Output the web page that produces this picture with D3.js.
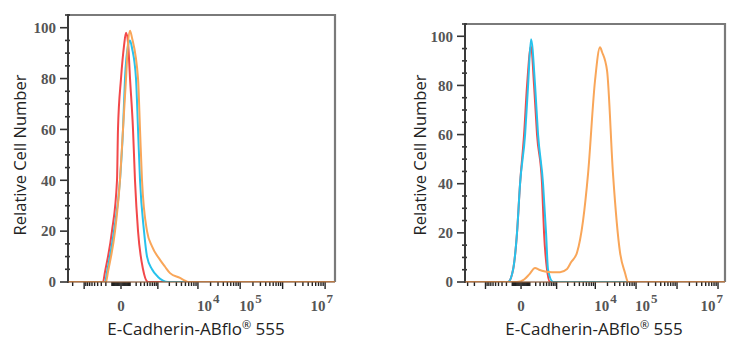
<!DOCTYPE html>
<html>
<head>
<meta charset="utf-8">
<script src="https://cdn.jsdelivr.net/npm/d3@7"></script>
<style>
  body { margin: 0; background: #fff; }
  .tick-label { font-family: "Liberation Serif", serif; font-weight: bold; font-size: 15px; fill: #555; }
  .axis-title { font-family: "Open Sans", "Noto Sans", sans-serif; font-size: 17px; fill: #222; }
</style>
</head>
<body>
<div id="chart"></div>
<script>
// fluorescence channel values (biexponential display) and % of max counts

// left panel
var leftRedX = [-2620, -260, -217, -99, -38, -28, 0, 28, 49, 73, 99, 144, 178, 238, 361, 522, 1.71e7];
var leftRedY = [0, 0, 4, 20, 40, 60, 80, 93, 98, 94, 80, 60, 40, 20, 5, 0, 0];

var leftCyanX = [-2620, -217, -178, -73, -9, 18, 38, 73, 99, 128, 197, 238, 283, 389, 486, 686, 1010, 1850, 1.71e7];
var leftCyanY = [0, 0, 4, 20, 40, 60, 80, 93, 95, 92, 80, 60, 40, 20, 10, 5, 2, 0, 0];

var leftOrangeX = [-2620, -197, -161, -60, -9, 18, 49, 73, 99, 128, 238, 283, 333, 486, 686, 1145, 1550, 2080, 3690, 4900, 5780, 1.71e7];
var leftOrangeY = [0, 0, 4, 20, 40, 60, 80, 94, 98.8, 96, 80, 60, 40, 20, 14, 8.7, 6, 3.5, 1.6, 0.5, 0, 0];

// right panel
var rightRedX = [-3500, -169, -89, -40, -9, 29, 63, 118, 169, 228, 353, 414, 518, 643, 1.48e7];
var rightRedY = [0, 0, 5, 20, 40, 60, 80, 96, 80, 60, 40, 20, 5, 0, 0];

var rightCyanX = [-3500, -169, -89, -40, -9, 40, 76, 118, 188, 251, 383, 482, 558, 790, 1.48e7];
var rightCyanY = [0, 0, 5, 20, 40, 60, 80, 98.8, 80, 60, 40, 20, 5, 0, 0];

var rightOrangeX = [-3500, -40, 29, 89, 188, 274, 447, 738, 1246, 1922, 2440, 3485, 4950, 6600, 9850, 13100, 14670, 19500, 27300, 40600, 53800, 63700, 1.48e7];
var rightOrangeY = [0, 0, 1, 3, 5.7, 5, 4.3, 4, 4, 5.3, 8, 12, 25, 44, 82, 95.5, 93.6, 86, 44, 12, 3.7, 0, 0];

var yTicks = [0, 20, 40, 60, 80, 100];
var xLabelTicks = [{value: 0, base: "0", exp: ""}, {value: 1e4, base: "10", exp: "4"}, {value: 1e5, base: "10", exp: "5"}, {value: 1e7, base: "10", exp: "7"}];
var xTitle = "E-Cadherin-ABflo";
var yTitle = "Relative Cell Number";

var colors = {red: "#f2484a", cyan: "#27c2ec", orange: "#f9a659"};

var svgWidth = 741;
var svgHeight = 350;

var svg = d3.select("#chart")
  .append("svg")
  .attr("width", svgWidth)
  .attr("height", svgHeight);

var panels = [
  {left: 68, right: 335, top: 15, bottom: 282, xDomain: [-2620, 1.71e7], titleX: 196, yTitleX: 20,
   series: [[leftRedX, leftRedY, colors.red], [leftCyanX, leftCyanY, colors.cyan], [leftOrangeX, leftOrangeY, colors.orange]]},
  {left: 465, right: 725, top: 24, bottom: 282, xDomain: [-3500, 1.48e7], titleX: 594, yTitleX: 420,
   series: [[rightRedX, rightRedY, colors.red], [rightCyanX, rightCyanY, colors.cyan], [rightOrangeX, rightOrangeY, colors.orange]]}
];

// minor/major ticks of the biexponential axis
var xTickVals = [0];
[-1, 1].forEach(function(s) {
  for (var n = 1; n <= 7; n++) {
    for (var k = 1; k <= 9; k++) xTickVals.push(s * k * Math.pow(10, n));
  }
});

panels.forEach(function(p) {
  var g = svg.append("g");

  var xScale = d3.scaleSymlog()
    .constant(157)
    .domain(p.xDomain)
    .range([p.left, p.right]);

  var yScale = d3.scaleLinear()
    .domain([0, 105])
    .range([p.bottom, p.top]);

  var clipId = "clip" + p.left;
  g.append("clipPath").attr("id", clipId)
    .append("rect")
    .attr("x", p.left).attr("y", p.top - 2)
    .attr("width", p.right - p.left).attr("height", p.bottom - p.top + 2);

  // frame (top, right)
  g.append("path")
    .attr("d", `M${p.left},${p.top}H${p.right}V${p.bottom}`)
    .attr("fill", "none")
    .attr("stroke", "#7a7a7a")
    .attr("stroke-width", 2.2);

  // y axis
  var yMinor = d3.range(0, 101, 5).concat([105]);
  g.append("g").selectAll("line")
    .data(yMinor)
    .enter()
    .append("line")
    .attr("x1", d => d % 20 === 0 ? p.left - 8 : p.left - 3)
    .attr("x2", d => d % 20 === 0 ? p.left : p.left + 2)
    .attr("y1", d => yScale(d))
    .attr("y2", d => yScale(d))
    .attr("stroke", "#333")
    .attr("stroke-width", 1.6);

  g.append("g").selectAll("text")
    .data(yTicks)
    .enter()
    .append("text")
    .attr("class", "tick-label")
    .attr("x", p.left - 12)
    .attr("y", d => yScale(d))
    .attr("dy", "0.35em")
    .attr("text-anchor", "end")
    .text(d => d);

  // x axis ticks
  var inDomain = xTickVals.filter(v => v >= p.xDomain[0] && v <= p.xDomain[1]);
  g.append("g").selectAll("line")
    .data(inDomain)
    .enter()
    .append("line")
    .attr("x1", d => xScale(d))
    .attr("x2", d => xScale(d))
    .attr("y1", p.bottom)
    .attr("y2", d => (d === 0 || Math.abs(Math.log10(Math.abs(d)) % 1) < 1e-9 && Math.abs(d) >= 1000) ? p.bottom + 7 : p.bottom + 4)
    .attr("stroke", "#222")
    .attr("stroke-width", 1.4);

  // series
  var line = d3.line()
    .x(d => xScale(d[0]))
    .y(d => yScale(d[1]))
    .curve(d3.curveMonotoneX);

  p.series.forEach(function(s) {
    var pts = s[0].map((x, i) => [x, s[1][i]]);
    g.append("path")
      .datum(pts)
      .attr("clip-path", `url(#${clipId})`)
      .attr("d", line)
      .attr("fill", "none")
      .attr("stroke", s[2])
      .attr("stroke-width", 2)
      .attr("stroke-linejoin", "round");
  });

  // axis lines on top
  g.append("line")
    .attr("x1", p.left).attr("x2", p.left)
    .attr("y1", p.top - 1).attr("y2", p.bottom + 1)
    .attr("stroke", "#3a3a3a").attr("stroke-width", 2);
  g.append("line")
    .attr("x1", p.left).attr("x2", p.right)
    .attr("y1", p.bottom).attr("y2", p.bottom)
    .attr("stroke", "#8a5a3a").attr("stroke-width", 1.6).attr("stroke-opacity", 0.8);

  // x tick labels
  xLabelTicks.forEach(function(t, i) {
    var last = i === xLabelTicks.length - 1;
    var tx = t.exp === "" ? xScale(t.value) : (last ? p.right - 2 : xScale(t.value) - 1);
    var txt = g.append("text")
      .attr("class", "tick-label")
      .attr("x", tx)
      .attr("y", p.bottom + 29)
      .attr("text-anchor", t.exp === "" ? "middle" : (last ? "end" : "start"));
    txt.append("tspan").text(t.base);
    if (t.exp !== "") {
      txt.append("tspan").attr("dy", -8).attr("dx", 1).style("font-size", "13px").text(t.exp);
    }
  });

  // titles
  var xt = g.append("text")
    .attr("class", "axis-title")
    .attr("x", p.titleX)
    .attr("y", p.bottom + 53)
    .attr("text-anchor", "middle");
  xt.append("tspan").text(xTitle);
  xt.append("tspan").attr("dy", -6).style("font-size", "11px").text("®");
  xt.append("tspan").attr("dy", 6).text(" 555");

  g.append("text")
    .attr("class", "axis-title")
    .attr("transform", `translate(${p.yTitleX}, 155) rotate(-90)`)
    .attr("dy", "0.35em")
    .attr("text-anchor", "middle")
    .style("font-size", "16.5px")
    .text(yTitle);
});
</script>
</body>
</html>
